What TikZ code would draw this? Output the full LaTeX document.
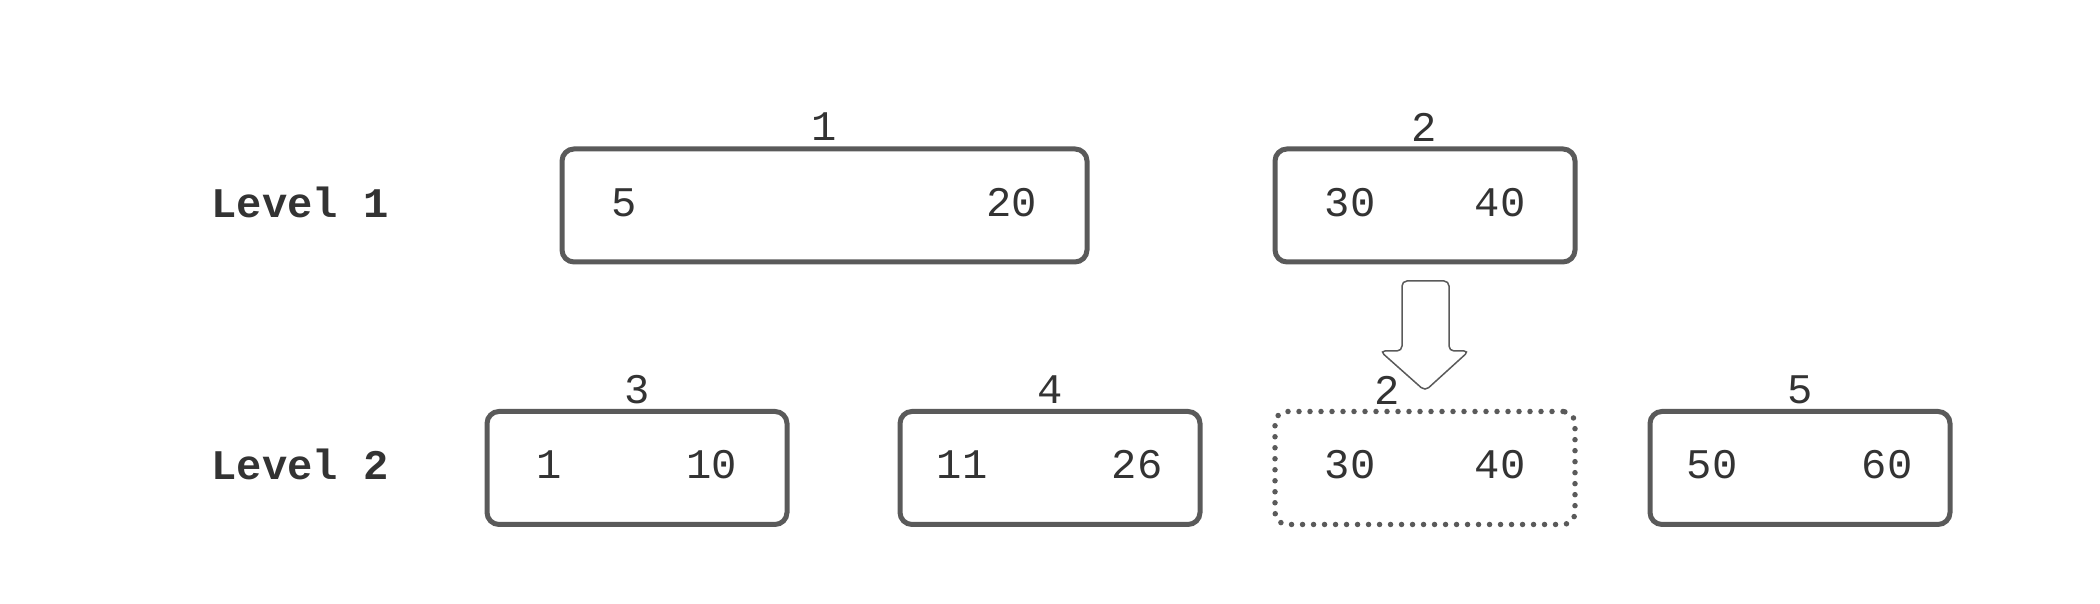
\documentclass[tikz,border=0pt]{standalone}
\usepackage{fontspec}
\setmonofont{Liberation Mono}
\definecolor{boxgray}{HTML}{5A5A5A}
\definecolor{textgray}{HTML}{333333}
\begin{document}
\begin{tikzpicture}[font=\ttfamily\fontsize{12}{14}\selectfont, text=textgray]
\tikzstyle{page_style} = [rounded corners=0.12cm, line width=0.05cm, draw=boxgray, fill=none, minimum height=1.13cm, minimum width=3cm]
\tikzstyle{ghost_style} = [page_style, line width=0.055cm, dash pattern=on 0pt off 0.11cm, line cap=round]
\tikzstyle{level_style} = [font=\ttfamily\bfseries\fontsize{12}{14}\selectfont]
\tikzstyle{arrow_style} = [boxgray, line width=0.015cm, rounded corners=0.05cm, fill=white]
    \useasboundingbox (0,0) rectangle (21,6.04);

    \node[level_style] (l1) at (3.00,4.02) {Level 1};
    \node[level_style] (l2) at (3.00,1.40) {Level 2};

    \node[page_style, minimum width=5.25cm] (b1) at (8.245,3.985) {};
    \node[page_style] (b2) at (14.25,3.985) {};
    \node[page_style] (b3) at (6.37,1.36) {};
    \node[page_style] (b4) at (10.50,1.36) {};
    \node[ghost_style] (b6) at (14.25,1.36) {};
    \node[page_style] (b5) at (18.00,1.36) {};

    \node (n1) at (8.24,4.77) {1};
    \node (n2) at (14.24,4.77) {2};
    \node (n3) at (6.37,2.14) {3};
    \node (n4) at (10.50,2.14) {4};
    \node (n6) at (13.87,2.14) {2};
    \node (n5) at (18.00,2.14) {5};

    \node (k11) at (6.24,4.01) {5};
    \node (k12) at (10.12,4.01) {20};
    \node (k21) at (13.50,4.01) {30};
    \node (k22) at (15.00,4.01) {40};
    \node (k31) at (5.49,1.39) {1};
    \node (k32) at (7.12,1.39) {10};
    \node (k41) at (9.62,1.39) {11};
    \node (k42) at (11.37,1.39) {26};
    \node (k61) at (13.50,1.39) {30};
    \node (k62) at (15.00,1.39) {40};
    \node (k51) at (17.12,1.39) {50};
    \node (k52) at (18.87,1.39) {60};

    % split arrow
    \draw[arrow_style] (14.02,3.23) -- (14.49,3.23) -- (14.49,2.53) -- (14.69,2.53)
        -- (14.25,2.13) -- (13.80,2.53) -- (14.02,2.53) -- cycle;
\end{tikzpicture}
\end{document}
